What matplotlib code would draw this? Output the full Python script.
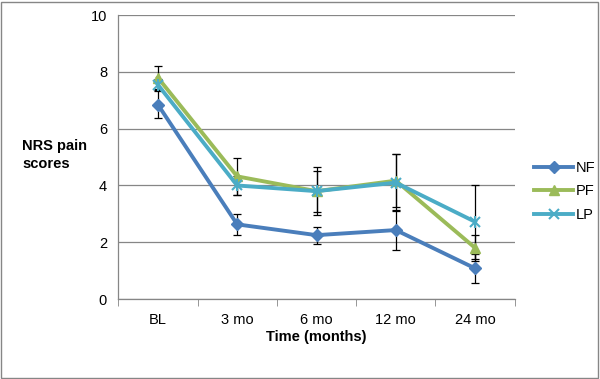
import numpy as np
import matplotlib
matplotlib.use("Agg")
import matplotlib.pyplot as plt
from matplotlib.patches import Rectangle
from matplotlib.lines import Line2D

plt.rcParams['font.family'] = ['Liberation Sans', 'DejaVu Sans']

# data
times = ['BL', '3 mo', '6 mo', '12 mo', '24 mo']
nf = [6.85, 2.63, 2.25, 2.43, 1.08]
pf = [7.80, 4.32, 3.80, 4.17, 1.80]
lp = [7.55, 4.00, 3.80, 4.10, 2.72]
nf_err = [0.48, 0.37, 0.30, 0.70, 0.50]
pf_err = [0.40, 0.65, 0.85, 0.93, 0.45]
lp_err = [0.20, 0.35, 0.72, 1.00, 1.30]

fig = plt.figure(figsize=(6.0, 3.79), dpi=100)
ax = fig.add_axes([0.197, 0.211, 0.661, 0.749])

x = np.arange(len(times))
series = [('NF', nf, nf_err, '#4A7EBB', 'D', 6),
          ('PF', pf, pf_err, '#9BBB59', '^', 7),
          ('LP', lp, lp_err, '#4BACC6', 'x', 7)]
for name, vals, err, col, mk, ms in series:
    ax.errorbar(x, vals, yerr=err, fmt='none', ecolor='black', elinewidth=0.9,
                capsize=3, capthick=0.9, zorder=2)
for name, vals, err, col, mk, ms in series:
    ax.plot(x, vals, color=col, linewidth=2.8, marker=mk, markersize=ms,
            markeredgecolor=col, markeredgewidth=1.5 if mk == 'x' else 1,
            zorder=3)
# star marker for LP: x plus a vertical stroke
ax.plot(x, lp, linestyle='none', marker='|', markersize=9, markeredgewidth=1.5,
        color='#4BACC6', zorder=4)

handles = [Line2D([], [], color=c, linewidth=2.8, marker=m, markersize=s,
                  markeredgecolor=c, markeredgewidth=1.5 if m == 'x' else 1)
           for _, _, _, c, m, s in series]
labels = [n for n, _, _, _, _, _ in series]

ax.set_xlim(-0.5, len(times) - 0.5)
ax.set_ylim(0, 10)
ax.set_yticks([0, 2, 4, 6, 8, 10])
ax.set_xticks(x)
ax.set_xticklabels(times)
ax.set_xticks(np.arange(-0.5, len(times), 1.0), minor=True)
ax.tick_params(axis='x', which='major', length=0, pad=10, labelsize=10.5)
ax.tick_params(axis='x', which='minor', length=5, color='#868686', direction='out')
ax.tick_params(axis='y', length=0, pad=8, labelsize=10.5)
ax.yaxis.grid(True, color='#868686', linewidth=0.9)
ax.set_axisbelow(True)
for s in ['top', 'right']:
    ax.spines[s].set_visible(False)
for s in ['left', 'bottom']:
    ax.spines[s].set_color('#868686')
    ax.spines[s].set_linewidth(0.9)

ax.set_xlabel('Time (months)', fontsize=10.5, fontweight='bold', labelpad=2)
fig.text(0.037, 0.59, 'NRS pain\nscores', fontsize=10.5, fontweight='bold',
         ha='left', va='center', linespacing=1.35)

ax.legend(handles, labels, loc='center left', bbox_to_anchor=(1.015, 0.38),
          frameon=False, fontsize=10.5, handlelength=2.7, labelspacing=0.65,
          handletextpad=0.15)

fig.patches.append(Rectangle((0.002, 0.003), 0.995, 0.993, transform=fig.transFigure,
                             fill=False, edgecolor='#868686', linewidth=1))

fig.savefig('out.png', dpi=100)
